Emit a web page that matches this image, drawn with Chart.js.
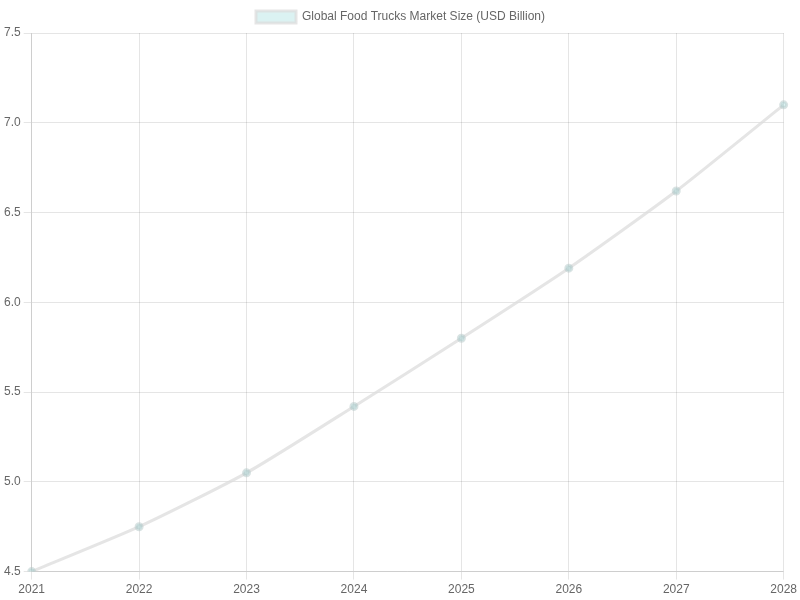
<!DOCTYPE html>
<html>
<head>
<meta charset="utf-8">
<script src="https://cdn.jsdelivr.net/npm/chart.js@4/dist/chart.umd.min.js"></script>
<style>
    html, body { margin: 0; padding: 0; background: #ffffff; }
    #wrap { width: 800px; height: 600px; }
</style>
</head>
<body>
<div id="wrap"><canvas id="marketChart"></canvas></div>
<script>
const years = ["2021", "2022", "2023", "2024", "2025", "2026", "2027", "2028"];
const marketSize = [4.5, 4.75, 5.05, 5.42, 5.8, 6.19, 6.62, 7.1];
const seriesLabel = "Global Food Trucks Market Size (USD Billion)";

new Chart(document.getElementById("marketChart"), {
    type: "line",
    data: {
        labels: years,
        datasets: [
            {
                label: seriesLabel,
                data: marketSize,
                borderColor: "rgba(220, 220, 220, 0.75)",
                backgroundColor: "rgba(75, 192, 192, 0.2)",
                pointBackgroundColor: "rgba(75, 192, 192, 0.2)",
                pointBorderColor: "rgba(180, 200, 200, 0.5)",
                pointRadius: 3,
                borderWidth: 3,
                tension: 0.2,
                fill: false
            }
        ]
    },
    options: {
        responsive: true,
        maintainAspectRatio: false,
        animation: false,
        layout: { padding: { top: 1, left: 1 } },
        plugins: {
            legend: { position: "top" }
        },
        scales: {
            x: { grid: { color: "rgba(0,0,0,0.1)" } },
            y: {
                min: 4.5,
                max: 7.5,
                ticks: {
                    stepSize: 0.5,
                    callback(value) { return Number(value).toFixed(1); }
                }
            }
        }
    }
});
</script>
</body>
</html>
